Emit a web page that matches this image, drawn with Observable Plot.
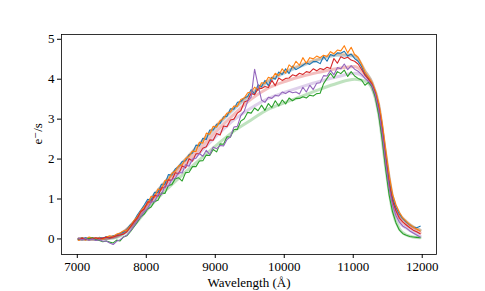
<!DOCTYPE html>
<html>
<head>
<meta charset="utf-8">
<script src="https://cdn.jsdelivr.net/npm/d3@7"></script>
<script src="https://cdn.jsdelivr.net/npm/@observablehq/plot@0.6"></script>
<style>
  html, body { margin: 0; padding: 0; background: #fff; }
  svg, svg text { font-family: "Liberation Serif", "DejaVu Serif", serif !important; }
</style>
</head>
<body>
<div id="chart"></div>
<script>
const xTicks = [7000, 8000, 9000, 10000, 11000, 12000];
const yTicks = [0, 1, 2, 3, 4, 5];
const seriesNames = ["C0", "C1", "C2", "C3", "C4"];
const seriesColors = ["#1f77b4", "#ff7f0e", "#2ca02c", "#d62728", "#9467bd"];

const wavelength = [
  7020,7070,7120,7170,7220,7270,7320,7370,7420,7470,
  7520,7570,7620,7670,7720,7770,7820,7870,7920,7970,
  8020,8070,8120,8170,8220,8270,8320,8370,8420,8470,
  8520,8570,8620,8670,8720,8770,8820,8870,8920,8970,
  9020,9070,9120,9170,9220,9270,9320,9370,9420,9470,
  9520,9570,9620,9670,9720,9770,9820,9870,9920,9970,
  10020,10070,10120,10170,10220,10270,10320,10370,10420,10470,
  10520,10570,10620,10670,10720,10770,10820,10870,10920,10970,
  11020,11070,11120,11170,11220,11270,11320,11370,11420,11470,
  11520,11570,11620,11670,11720,11770,11820,11870,11920,11970
];

const blue = [
  0.0,-0.02,0.03,-0.01,0.02,-0.03,0.04,0.01,0.06,0.03,
  0.08,0.1,0.14,0.17,0.24,0.36,0.44,0.6,0.72,0.85,
  0.99,0.97,1.17,1.16,1.37,1.37,1.61,1.60,1.75,1.81,
  1.94,1.96,2.11,2.15,2.35,2.33,2.52,2.49,2.73,2.73,
  2.87,2.89,3.06,3.07,3.26,3.25,3.42,3.44,3.53,3.57,
  3.74,3.63,3.86,3.81,3.97,3.84,4.05,4.00,4.18,4.12,
  4.26,4.14,4.33,4.24,4.29,4.35,4.41,4.37,4.44,4.44,
  4.39,4.57,4.45,4.62,4.58,4.66,4.65,4.70,4.58,4.63,
  4.52,4.45,4.32,4.12,4.02,3.9,3.68,3.32,2.78,2.1,
  1.48,1.02,0.78,0.62,0.5,0.42,0.35,0.3,0.28,0.32
];

const orange = [
  -0.04,0.02,-0.03,0.05,0.02,0.0,0.03,-0.01,0.05,0.08,
  0.06,0.12,0.15,0.2,0.22,0.33,0.46,0.55,0.7,0.8,
  0.87,1.07,1.04,1.25,1.23,1.46,1.48,1.64,1.70,1.83,
  1.86,2.01,2.07,2.20,2.19,2.42,2.40,2.65,2.62,2.82,
  2.80,2.96,3.02,3.15,3.18,3.33,3.32,3.49,3.53,3.66,
  3.68,3.80,3.72,3.91,3.90,4.05,4.01,4.15,4.09,4.26,
  4.15,4.36,4.29,4.45,4.35,4.54,4.40,4.54,4.51,4.58,
  4.54,4.60,4.57,4.69,4.64,4.73,4.71,4.84,4.66,4.80,
  4.62,4.55,4.38,4.18,4.05,3.92,3.72,3.4,2.9,2.25,
  1.6,1.12,0.85,0.66,0.52,0.44,0.36,0.3,0.25,0.2
];

const green = [
  0.0,0.02,-0.01,0.01,0.03,-0.02,-0.04,-0.07,-0.05,-0.08,
  -0.1,-0.03,-0.05,0.05,0.08,0.18,0.3,0.42,0.55,0.62,
  0.75,0.80,0.94,0.97,1.15,1.14,1.34,1.36,1.51,1.53,
  1.45,1.66,1.67,1.81,1.81,1.95,1.96,2.10,2.09,2.24,
  2.18,2.38,2.37,2.56,2.55,2.74,2.74,2.95,3.01,3.17,
  3.15,3.28,3.21,3.35,3.22,3.39,3.29,3.46,3.33,3.48,
  3.38,3.53,3.46,3.52,3.52,3.56,3.53,3.60,3.58,3.64,
  3.65,3.89,4.02,4.15,4.03,4.19,4.14,4.23,4.07,4.19,
  4.08,4.02,3.98,3.85,3.92,3.82,3.55,3.1,2.5,1.75,
  1.1,0.68,0.4,0.22,0.13,0.09,0.06,0.05,0.04,0.03
];

const red = [
  0.0,0.02,0.0,-0.02,0.01,0.03,0.0,0.02,0.04,0.02,
  0.05,0.08,0.1,0.12,0.18,0.3,0.42,0.52,0.68,0.75,
  0.93,0.92,1.09,1.07,1.28,1.28,1.48,1.47,1.66,1.63,
  1.83,1.78,2.01,1.95,2.13,2.14,2.27,2.31,2.48,2.47,
  2.64,2.60,2.83,2.81,2.98,3.00,3.15,3.21,3.43,3.47,
  3.65,3.61,3.76,3.77,3.82,3.79,3.97,3.84,4.03,3.97,
  4.02,4.03,4.11,4.08,4.15,4.12,4.19,4.17,4.26,4.21,
  4.27,4.24,4.30,4.27,4.52,4.40,4.56,4.52,4.55,4.48,
  4.45,4.38,4.25,4.1,4.0,3.88,3.65,3.28,2.72,2.0,
  1.38,0.95,0.7,0.52,0.42,0.35,0.28,0.22,0.18,0.13
];

const purple = [
  0.02,-0.02,0.01,-0.03,0.0,-0.04,-0.02,-0.06,-0.05,-0.1,
  -0.14,-0.06,-0.02,0.05,0.1,0.2,0.32,0.45,0.55,0.68,
  0.76,0.93,0.93,1.11,1.11,1.33,1.32,1.49,1.52,1.67,
  1.65,1.86,1.82,2.00,2.02,2.14,2.07,2.22,2.11,2.30,
  2.26,2.34,2.33,2.49,2.56,2.80,2.82,3.09,3.20,3.45,
  3.55,4.25,3.85,3.48,3.42,3.55,3.52,3.60,3.58,3.68,
  3.64,3.70,3.66,3.68,3.63,3.80,3.68,3.85,3.74,3.90,
  3.91,4.09,4.08,4.22,4.11,4.29,4.26,4.38,4.24,4.34,
  4.25,4.2,4.12,4.02,3.95,3.85,3.62,3.22,2.65,1.92,
  1.28,0.85,0.58,0.42,0.32,0.27,0.2,0.15,0.1,0.05
];

const modelWavelength = [
  7020,7270,7520,7770,8020,8270,8520,8770,9020,9270,
  9520,9770,10020,10270,10520,10770,11020,11170,11270,11370,
  11470,11570,11670,11770,11870,11970
];
const modelBlue = [
  0,0,0.05,0.32,0.9,1.42,1.9,2.36,2.82,3.25,
  3.62,3.94,4.17,4.35,4.5,4.6,4.58,4.2,3.92,3.35,
  2.12,1.05,0.62,0.43,0.3,0.22
];
const modelOrange = [
  0,0,0.05,0.32,0.9,1.42,1.9,2.38,2.85,3.28,
  3.65,3.97,4.2,4.38,4.52,4.63,4.6,4.2,3.92,3.35,
  2.12,1.05,0.62,0.43,0.3,0.22
];
const modelRed = [
  0,0,0.04,0.3,0.85,1.35,1.8,2.25,2.7,3.12,
  3.5,3.78,3.95,4.08,4.18,4.27,4.32,4.12,3.88,3.28,
  2.02,0.95,0.52,0.35,0.24,0.15
];
const modelPurple = [
  0,0,0.03,0.28,0.8,1.28,1.72,2.15,2.58,2.98,
  3.28,3.52,3.68,3.82,3.95,4.06,4.15,4.05,3.82,3.22,
  1.95,0.85,0.42,0.27,0.16,0.07
];
const modelGreen = [
  0,0,0.02,0.25,0.75,1.2,1.6,1.98,2.35,2.7,
  2.98,3.25,3.42,3.58,3.75,3.9,4.0,3.95,3.78,3.12,
  1.8,0.7,0.25,0.1,0.05,0.03
];

const observed = [blue, orange, green, red, purple];
const models = [modelBlue, modelOrange, modelGreen, modelRed, modelPurple];

const obsRows = [];
seriesNames.forEach((s, k) => observed[k].forEach((v, i) => obsRows.push({ s, w: wavelength[i], v })));
const modelRows = [];
seriesNames.forEach((s, k) => models[k].forEach((v, i) => modelRows.push({ s, w: modelWavelength[i], v })));

const chart = Plot.plot({
  width: 485,
  height: 291,
  marginLeft: 61,
  marginRight: 49,
  marginTop: 34,
  marginBottom: 37,
  style: { fontFamily: "Liberation Serif", fontSize: "13px", color: "#000", background: "#fff" },
  x: { domain: [6771, 12207] },
  y: { domain: [-0.39, 5.12] },
  color: { domain: seriesNames, range: seriesColors },
  marks: [
    Plot.line(modelRows, { x: "w", y: "v", z: "s", stroke: "s", strokeWidth: 3, strokeOpacity: 0.3, curve: "monotone-x" }),
    Plot.line(obsRows, { x: "w", y: "v", z: "s", stroke: "s", strokeWidth: 1.1 }),
    Plot.frame({ stroke: "#000", strokeWidth: 0.8 }),
    Plot.axisX({ ticks: xTicks, tickSize: 4, tickPadding: 3, tickFormat: "d", label: null, fontSize: 13 }),
    Plot.axisY({ ticks: yTicks, tickSize: 4, tickPadding: 3, tickFormat: "d", label: null, fontSize: 13 }),
    Plot.text(["Wavelength (Å)"], { frameAnchor: "bottom", dy: 28, lineAnchor: "middle", fontSize: 13, fill: "#000" }),
    Plot.text(["e⁻/s"], { frameAnchor: "left", dx: -24, rotate: -90, fontSize: 13, fill: "#000" })
  ]
});
document.getElementById("chart").appendChild(chart);
</script>
</body>
</html>
